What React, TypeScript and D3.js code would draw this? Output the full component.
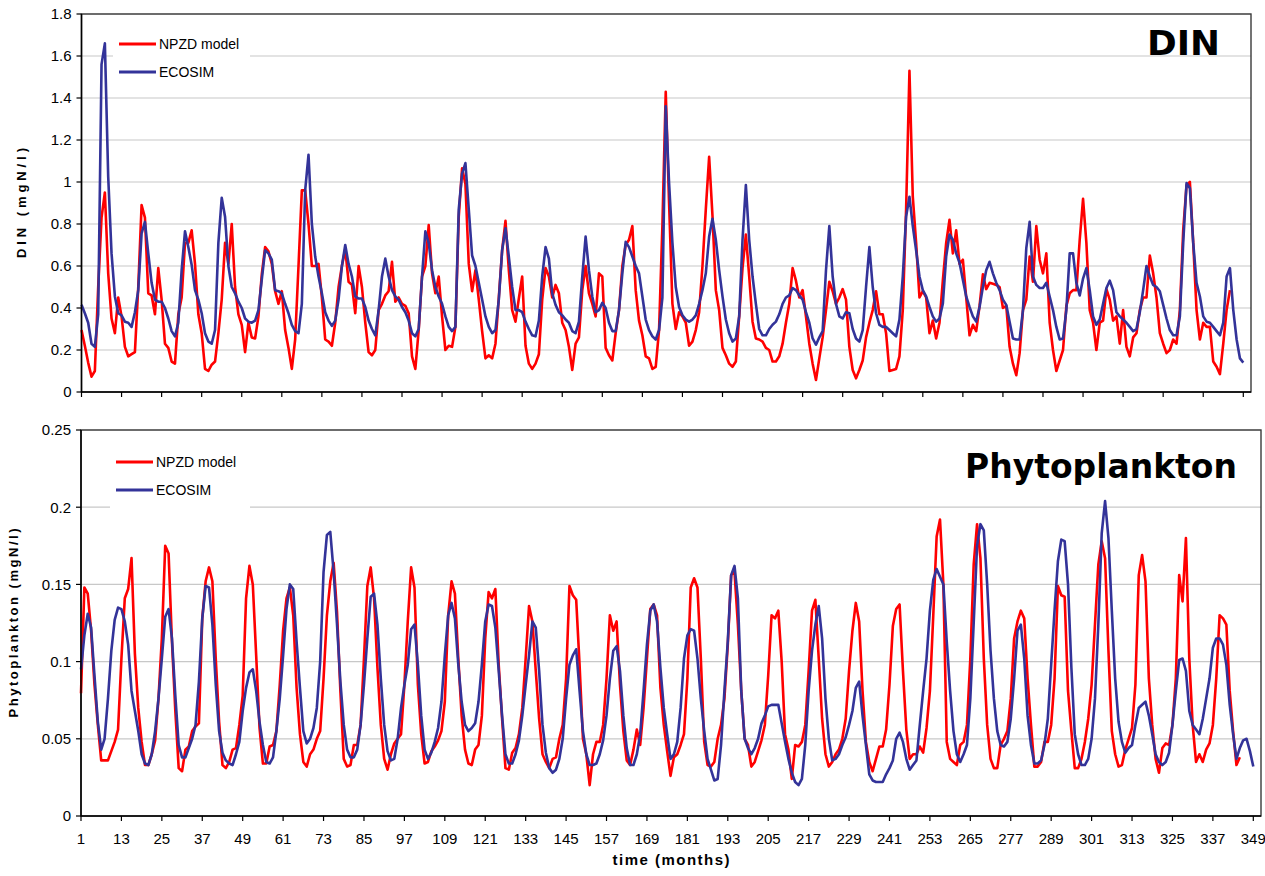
import React from 'react';
import * as d3 from 'd3';

// Month tick labels shared by both panels
const MONTH_TICKS = [1, 13, 25, 37, 49, 61, 73, 85, 97, 109, 121, 133, 145, 157, 169, 181, 193, 205, 217, 229, 241, 253, 265, 277, 289, 301, 313, 325, 337, 349];
const DIN_TICKS = [0, 0.2, 0.4, 0.6, 0.8, 1, 1.2, 1.4, 1.6, 1.8];
const PHYTO_TICKS = [0, 0.05, 0.1, 0.15, 0.2, 0.25];
const SERIES_NAMES = ['NPZD model', 'ECOSIM'];

// DIN (mgN/l), one value per month starting at month 1
const DIN_NPZD = [
  0.295, 0.22, 0.14, 0.073, 0.10, 0.50, 0.83, 0.95, 0.565, 0.35, 0.28, 0.45,
  0.36, 0.215, 0.17, 0.18, 0.19, 0.50, 0.89, 0.83, 0.47, 0.46, 0.37, 0.59,
  0.44, 0.23, 0.21, 0.145, 0.135, 0.37, 0.45, 0.71, 0.71, 0.77, 0.61, 0.37,
  0.28, 0.11, 0.10, 0.13, 0.145, 0.28, 0.44, 0.71, 0.61, 0.80, 0.50, 0.37,
  0.32, 0.19, 0.33, 0.26, 0.255, 0.36, 0.56, 0.69, 0.67, 0.61, 0.48, 0.42,
  0.48, 0.295, 0.21, 0.11, 0.25, 0.60, 0.96, 0.96, 0.80, 0.60, 0.60, 0.61,
  0.45, 0.25, 0.24, 0.22, 0.33, 0.50, 0.60, 0.68, 0.525, 0.51, 0.375, 0.60,
  0.50, 0.33, 0.19, 0.175, 0.20, 0.39, 0.42, 0.46, 0.48, 0.62, 0.43, 0.45,
  0.42, 0.41, 0.375, 0.17, 0.11, 0.295, 0.55, 0.60, 0.795, 0.565, 0.47, 0.55,
  0.36, 0.20, 0.22, 0.215, 0.31, 0.835, 1.065, 0.99, 0.61, 0.48, 0.58, 0.44,
  0.29, 0.16, 0.175, 0.16, 0.23, 0.45, 0.675, 0.815, 0.58, 0.39, 0.335, 0.445,
  0.55, 0.22, 0.135, 0.11, 0.135, 0.18, 0.44, 0.59, 0.55, 0.45, 0.51, 0.47,
  0.33, 0.295, 0.215, 0.105, 0.23, 0.26, 0.485, 0.60, 0.47, 0.42, 0.36, 0.565,
  0.55, 0.21, 0.175, 0.15, 0.28, 0.39, 0.60, 0.70, 0.725, 0.79, 0.485, 0.34,
  0.27, 0.17, 0.16, 0.11, 0.12, 0.295, 0.79, 1.43, 0.90, 0.42, 0.30, 0.38,
  0.36, 0.33, 0.22, 0.24, 0.295, 0.38, 0.60, 0.87, 1.12, 0.84, 0.485, 0.39,
  0.21, 0.175, 0.135, 0.12, 0.145, 0.36, 0.59, 0.75, 0.55, 0.335, 0.255, 0.25,
  0.24, 0.21, 0.20, 0.145, 0.145, 0.17, 0.23, 0.33, 0.42, 0.59, 0.53, 0.45,
  0.485, 0.36, 0.23, 0.135, 0.057, 0.16, 0.26, 0.39, 0.525, 0.48, 0.42, 0.45,
  0.49, 0.44, 0.215, 0.105, 0.065, 0.105, 0.15, 0.26, 0.33, 0.39, 0.48, 0.37,
  0.37, 0.28, 0.10, 0.105, 0.11, 0.17, 0.39, 0.87, 1.53, 0.93, 0.71, 0.45,
  0.48, 0.45, 0.28, 0.34, 0.255, 0.33, 0.53, 0.71, 0.82, 0.66, 0.77, 0.61,
  0.63, 0.45, 0.27, 0.32, 0.29, 0.41, 0.56, 0.49, 0.52, 0.515, 0.51, 0.50,
  0.40, 0.41, 0.215, 0.135, 0.08, 0.185, 0.39, 0.44, 0.645, 0.525, 0.79, 0.63,
  0.565, 0.66, 0.33, 0.20, 0.10, 0.15, 0.20, 0.41, 0.47, 0.485, 0.485, 0.725,
  0.92, 0.71, 0.39, 0.33, 0.20, 0.33, 0.34, 0.49, 0.44, 0.34, 0.36, 0.23,
  0.39, 0.215, 0.17, 0.26, 0.28, 0.39, 0.45, 0.45, 0.65, 0.565, 0.45, 0.28,
  0.23, 0.185, 0.20, 0.25, 0.23, 0.39, 0.77, 0.985, 1.00, 0.71, 0.39, 0.25,
  0.33, 0.31, 0.31, 0.145, 0.12, 0.085, 0.23, 0.39, 0.485,
];

const DIN_ECOSIM = [
  0.415, 0.375, 0.33, 0.23, 0.215, 0.37, 1.56, 1.66, 1.025, 0.66, 0.455, 0.375,
  0.365, 0.335, 0.33, 0.31, 0.38, 0.485, 0.755, 0.81, 0.66, 0.52, 0.44, 0.43,
  0.43, 0.40, 0.35, 0.29, 0.265, 0.33, 0.58, 0.765, 0.69, 0.605, 0.485, 0.44,
  0.375, 0.28, 0.24, 0.23, 0.295, 0.71, 0.925, 0.835, 0.60, 0.50, 0.47, 0.43,
  0.40, 0.35, 0.335, 0.33, 0.34, 0.39, 0.535, 0.675, 0.66, 0.63, 0.485, 0.48,
  0.47, 0.42, 0.375, 0.32, 0.29, 0.28, 0.42, 0.96, 1.13, 0.80, 0.645, 0.55,
  0.47, 0.38, 0.34, 0.315, 0.34, 0.44, 0.60, 0.70, 0.61, 0.55, 0.455, 0.445,
  0.445, 0.405, 0.34, 0.30, 0.27, 0.39, 0.55, 0.635, 0.55, 0.485, 0.455, 0.44,
  0.405, 0.38, 0.34, 0.28, 0.265, 0.30, 0.55, 0.765, 0.71, 0.58, 0.50, 0.455,
  0.42, 0.36, 0.31, 0.29, 0.31, 0.87, 1.04, 1.09, 0.87, 0.65, 0.60, 0.52,
  0.44, 0.36, 0.31, 0.28, 0.295, 0.44, 0.675, 0.78, 0.645, 0.50, 0.39, 0.39,
  0.38, 0.335, 0.30, 0.27, 0.265, 0.34, 0.55, 0.69, 0.635, 0.47, 0.415, 0.38,
  0.365, 0.345, 0.33, 0.29, 0.28, 0.335, 0.55, 0.74, 0.58, 0.455, 0.38, 0.39,
  0.425, 0.40, 0.33, 0.29, 0.29, 0.39, 0.565, 0.715, 0.69, 0.645, 0.60, 0.565,
  0.455, 0.345, 0.295, 0.265, 0.25, 0.295, 0.45, 1.36, 0.995, 0.71, 0.50, 0.405,
  0.365, 0.345, 0.335, 0.345, 0.365, 0.42, 0.485, 0.565, 0.74, 0.825, 0.725, 0.58,
  0.455, 0.345, 0.28, 0.24, 0.255, 0.36, 0.725, 0.985, 0.725, 0.55, 0.42, 0.30,
  0.27, 0.27, 0.30, 0.32, 0.335, 0.37, 0.42, 0.45, 0.46, 0.495, 0.485, 0.46,
  0.44, 0.38, 0.33, 0.255, 0.225, 0.26, 0.29, 0.58, 0.79, 0.55, 0.42, 0.36,
  0.35, 0.38, 0.375, 0.30, 0.255, 0.24, 0.295, 0.50, 0.69, 0.50, 0.375, 0.32,
  0.31, 0.31, 0.295, 0.28, 0.265, 0.345, 0.55, 0.835, 0.93, 0.79, 0.675, 0.55,
  0.485, 0.455, 0.405, 0.36, 0.335, 0.35, 0.42, 0.645, 0.75, 0.725, 0.66, 0.615,
  0.535, 0.455, 0.405, 0.36, 0.335, 0.405, 0.50, 0.58, 0.62, 0.565, 0.52, 0.485,
  0.44, 0.415, 0.335, 0.255, 0.25, 0.25, 0.39, 0.685, 0.81, 0.55, 0.51, 0.495,
  0.495, 0.52, 0.455, 0.39, 0.31, 0.25, 0.255, 0.39, 0.66, 0.66, 0.52, 0.46,
  0.54, 0.59, 0.485, 0.36, 0.32, 0.345, 0.42, 0.495, 0.53, 0.485, 0.38, 0.36,
  0.345, 0.33, 0.31, 0.29, 0.30, 0.38, 0.485, 0.60, 0.55, 0.51, 0.50, 0.48,
  0.415, 0.35, 0.295, 0.27, 0.27, 0.36, 0.71, 0.995, 0.97, 0.71, 0.52, 0.455,
  0.36, 0.335, 0.33, 0.31, 0.29, 0.27, 0.33, 0.55, 0.59, 0.39, 0.25, 0.16,
  0.14,
];

// Phytoplankton (mgN/l), one value per month starting at month 1
const PHYTO_NPZD = [
  0.0795, 0.148, 0.144, 0.12, 0.085, 0.059, 0.036, 0.036, 0.036, 0.042, 0.048, 0.056,
  0.102, 0.141, 0.147, 0.167, 0.105, 0.07, 0.048, 0.033, 0.033, 0.04, 0.049, 0.076,
  0.115, 0.175, 0.17, 0.113, 0.068, 0.031, 0.029, 0.043, 0.045, 0.055, 0.058, 0.06,
  0.128, 0.152, 0.161, 0.152, 0.102, 0.061, 0.033, 0.031, 0.035, 0.043, 0.044, 0.059,
  0.078, 0.141, 0.162, 0.15, 0.104, 0.057, 0.034, 0.034, 0.045, 0.046, 0.055, 0.085,
  0.12, 0.141, 0.148, 0.13, 0.083, 0.053, 0.035, 0.032, 0.04, 0.043, 0.05, 0.055,
  0.089, 0.13, 0.152, 0.164, 0.132, 0.081, 0.037, 0.032, 0.033, 0.046, 0.046, 0.059,
  0.102, 0.149, 0.161, 0.141, 0.096, 0.059, 0.037, 0.03, 0.04, 0.047, 0.05, 0.053,
  0.085, 0.126, 0.161, 0.148, 0.085, 0.053, 0.034, 0.035, 0.042, 0.045, 0.049, 0.055,
  0.074, 0.13, 0.152, 0.144, 0.102, 0.065, 0.043, 0.034, 0.033, 0.043, 0.046, 0.065,
  0.115, 0.145, 0.141, 0.147, 0.098, 0.063, 0.031, 0.03, 0.041, 0.044, 0.053, 0.07,
  0.102, 0.136, 0.126, 0.094, 0.063, 0.04, 0.035, 0.031, 0.037, 0.038, 0.05, 0.059,
  0.089, 0.149, 0.143, 0.14, 0.098, 0.05, 0.04, 0.02, 0.04, 0.048, 0.048, 0.059,
  0.089, 0.13, 0.12, 0.126, 0.085, 0.055, 0.036, 0.033, 0.043, 0.056, 0.046, 0.07,
  0.102, 0.134, 0.137, 0.13, 0.083, 0.059, 0.042, 0.026, 0.038, 0.04, 0.046, 0.053,
  0.089, 0.148, 0.154, 0.148, 0.102, 0.048, 0.033, 0.032, 0.035, 0.05, 0.059, 0.076,
  0.111, 0.156, 0.158, 0.124, 0.081, 0.05, 0.046, 0.032, 0.035, 0.042, 0.049, 0.059,
  0.091, 0.13, 0.128, 0.133, 0.1, 0.053, 0.043, 0.024, 0.046, 0.045, 0.048, 0.059,
  0.094, 0.133, 0.14, 0.102, 0.063, 0.04, 0.032, 0.035, 0.04, 0.043, 0.05, 0.063,
  0.094, 0.12, 0.138, 0.126, 0.081, 0.048, 0.035, 0.029, 0.037, 0.045, 0.045, 0.056,
  0.085, 0.123, 0.134, 0.137, 0.094, 0.056, 0.037, 0.04, 0.04, 0.045, 0.041, 0.057,
  0.081, 0.13, 0.181, 0.192, 0.15, 0.048, 0.037, 0.035, 0.033, 0.046, 0.048, 0.059,
  0.102, 0.163, 0.189, 0.167, 0.102, 0.059, 0.037, 0.031, 0.031, 0.046, 0.05, 0.055,
  0.076, 0.115, 0.126, 0.133, 0.128, 0.089, 0.059, 0.032, 0.032, 0.035, 0.048, 0.048,
  0.059, 0.089, 0.149, 0.143, 0.142, 0.081, 0.055, 0.031, 0.031, 0.037, 0.048, 0.063,
  0.085, 0.124, 0.163, 0.178, 0.167, 0.107, 0.055, 0.04, 0.032, 0.033, 0.043, 0.05,
  0.057, 0.085, 0.156, 0.169, 0.152, 0.089, 0.059, 0.037, 0.028, 0.044, 0.047, 0.046,
  0.059, 0.089, 0.156, 0.139, 0.18, 0.102, 0.059, 0.035, 0.04, 0.035, 0.043, 0.047,
  0.059, 0.089, 0.13, 0.128, 0.124, 0.081, 0.055, 0.033, 0.038,
];

const PHYTO_ECOSIM = [
  0.095, 0.117, 0.131, 0.122, 0.091, 0.061, 0.043, 0.05, 0.076, 0.107, 0.127, 0.135,
  0.134, 0.126, 0.111, 0.081, 0.068, 0.055, 0.04, 0.034, 0.033, 0.04, 0.055, 0.076,
  0.102, 0.129, 0.134, 0.115, 0.078, 0.046, 0.038, 0.038, 0.044, 0.05, 0.059, 0.087,
  0.128, 0.149, 0.148, 0.124, 0.085, 0.055, 0.041, 0.036, 0.034, 0.033, 0.04, 0.048,
  0.068, 0.083, 0.093, 0.095, 0.081, 0.061, 0.046, 0.035, 0.034, 0.038, 0.055, 0.076,
  0.104, 0.134, 0.15, 0.147, 0.113, 0.083, 0.055, 0.047, 0.05, 0.057, 0.07, 0.1,
  0.158, 0.182, 0.184, 0.158, 0.124, 0.087, 0.059, 0.043, 0.038, 0.038, 0.043, 0.059,
  0.085, 0.115, 0.142, 0.144, 0.124, 0.089, 0.059, 0.042, 0.036, 0.037, 0.05, 0.07,
  0.085, 0.098, 0.121, 0.124, 0.098, 0.065, 0.043, 0.037, 0.041, 0.048, 0.057, 0.074,
  0.104, 0.13, 0.138, 0.128, 0.098, 0.074, 0.059, 0.055, 0.057, 0.06, 0.074, 0.098,
  0.126, 0.137, 0.136, 0.122, 0.094, 0.065, 0.04, 0.034, 0.034, 0.04, 0.049, 0.065,
  0.085, 0.104, 0.126, 0.122, 0.094, 0.059, 0.041, 0.031, 0.028, 0.03, 0.037, 0.05,
  0.076, 0.098, 0.104, 0.108, 0.081, 0.055, 0.04, 0.033, 0.033, 0.034, 0.04, 0.049,
  0.065, 0.089, 0.107, 0.11, 0.094, 0.065, 0.044, 0.033, 0.033, 0.04, 0.053, 0.081,
  0.111, 0.133, 0.137, 0.126, 0.096, 0.07, 0.053, 0.037, 0.04, 0.048, 0.07, 0.102,
  0.117, 0.121, 0.12, 0.102, 0.076, 0.055, 0.037, 0.03, 0.023, 0.024, 0.046, 0.081,
  0.113, 0.156, 0.162, 0.141, 0.081, 0.05, 0.044, 0.04, 0.044, 0.05, 0.06, 0.065,
  0.071, 0.072, 0.072, 0.072, 0.06, 0.048, 0.037, 0.028, 0.022, 0.02, 0.024, 0.046,
  0.081, 0.107, 0.124, 0.136, 0.115, 0.076, 0.05, 0.036, 0.037, 0.04, 0.046, 0.051,
  0.059, 0.068, 0.083, 0.087, 0.065, 0.046, 0.027, 0.023, 0.022, 0.022, 0.022, 0.027,
  0.031, 0.036, 0.05, 0.054, 0.048, 0.037, 0.03, 0.033, 0.036, 0.059, 0.081, 0.102,
  0.133, 0.153, 0.16, 0.155, 0.15, 0.113, 0.081, 0.055, 0.04, 0.035, 0.04, 0.046,
  0.076, 0.125, 0.175, 0.189, 0.185, 0.15, 0.107, 0.076, 0.055, 0.046, 0.045, 0.048,
  0.063, 0.089, 0.12, 0.124, 0.102, 0.065, 0.046, 0.034, 0.034, 0.036, 0.046, 0.063,
  0.098, 0.133, 0.165, 0.179, 0.178, 0.15, 0.096, 0.053, 0.04, 0.033, 0.033, 0.037,
  0.05, 0.076, 0.124, 0.183, 0.204, 0.18, 0.133, 0.089, 0.061, 0.048, 0.041, 0.044,
  0.046, 0.059, 0.07, 0.072, 0.074, 0.065, 0.053, 0.04, 0.035, 0.033, 0.035, 0.041,
  0.059, 0.081, 0.101, 0.102, 0.094, 0.068, 0.059, 0.056, 0.053, 0.063, 0.076, 0.089,
  0.109, 0.115, 0.115, 0.111, 0.098, 0.072, 0.053, 0.037, 0.044, 0.049, 0.05, 0.042,
  0.032,
];

const RED = '#ff0000';
const BLUE = '#333399';
const FONT = "'Liberation Sans', Arial, sans-serif";
const TITLE_FONT = "'DejaVu Sans', Verdana, sans-serif";

type PanelProps = {
  left: number;
  right: number;
  top: number;
  bottom: number;
  lastTickX: number;
  yTicks: number[];
  npzd: number[];
  ecosim: number[];
  title: string;
  titleX: number;
  titleY: number;
  titleLength: number;
  yLabel: string;
  yLabelX: number;
  yLabelLength: number;
  legend: { x: number; y: number; w: number; h: number; lineX: number; lineY: number };
  showXLabels: boolean;
};

function Panel(p: PanelProps) {
  const x = d3.scaleLinear().domain([MONTH_TICKS[0], MONTH_TICKS[MONTH_TICKS.length - 1]]).range([p.left, p.lastTickX]);
  const y = d3.scaleLinear().domain([0, p.yTicks[p.yTicks.length - 1]]).range([p.bottom, p.top]);
  const line = d3
    .line<number>()
    .x((_, i) => x(i + 1))
    .y((d) => y(d));

  const midY = (p.top + p.bottom) / 2;

  return (
    <g>
      {/* horizontal gridlines */}
      {p.yTicks.slice(1).map((t) => (
        <line key={'g' + t} x1={p.left} x2={p.right} y1={y(t)} y2={y(t)} stroke="#c8c8c8" strokeWidth={1.2} />
      ))}

      {/* legend background hides the gridlines behind it */}
      <rect x={p.legend.x} y={p.legend.y} width={p.legend.w} height={p.legend.h} fill="#ffffff" />

      {/* plot frame */}
      <rect x={p.left} y={p.top} width={p.right - p.left} height={p.bottom - p.top} fill="none" stroke="#3a3a3a" strokeWidth={1.4} />

      {/* series */}
      <path d={line(p.npzd) || ''} fill="none" stroke={RED} strokeWidth={2.6} strokeLinejoin="round" />
      <path d={line(p.ecosim) || ''} fill="none" stroke={BLUE} strokeWidth={2.6} strokeLinejoin="round" />

      {/* axes */}
      <line x1={p.left} x2={p.left} y1={p.top} y2={p.bottom} stroke="#000" strokeWidth={1.5} />
      <line x1={p.left} x2={p.right} y1={p.bottom} y2={p.bottom} stroke="#000" strokeWidth={1.5} />
      {p.yTicks.map((t) => (
        <g key={'y' + t}>
          <line x1={p.left - 5} x2={p.left} y1={y(t)} y2={y(t)} stroke="#000" strokeWidth={1.2} />
          <text x={p.left - 10} y={y(t)} dy="0.36em" textAnchor="end" fontFamily={FONT} fontSize={15} fill="#000">
            {String(t)}
          </text>
        </g>
      ))}
      {MONTH_TICKS.map((m) => (
        <g key={'x' + m}>
          <line x1={x(m)} x2={x(m)} y1={p.bottom} y2={p.bottom + 5} stroke="#000" strokeWidth={1.2} />
          {p.showXLabels && (
            <text x={x(m)} y={p.bottom + 28} textAnchor="middle" fontFamily={FONT} fontSize={15} fill="#000">
              {String(m)}
            </text>
          )}
        </g>
      ))}

      {/* y axis title */}
      <text
        transform={`translate(${p.yLabelX},${midY}) rotate(-90)`}
        textAnchor="middle"
        fontFamily={FONT}
        fontWeight="bold"
        fontSize={13}
        textLength={p.yLabelLength}
        lengthAdjust="spacing"
        fill="#000"
      >
        {p.yLabel}
      </text>

      {/* legend */}
      {SERIES_NAMES.map((name, i) => (
        <g key={name}>
          <line
            x1={p.legend.lineX}
            x2={p.legend.lineX + 37}
            y1={p.legend.lineY + i * 28}
            y2={p.legend.lineY + i * 28}
            stroke={i === 0 ? RED : BLUE}
            strokeWidth={3}
          />
          <text x={p.legend.lineX + 40} y={p.legend.lineY + i * 28} dy="0.36em" fontFamily={FONT} fontSize={14} fill="#000">
            {name}
          </text>
        </g>
      ))}

      {/* panel title */}
      <text
        x={p.titleX}
        y={p.titleY}
        textAnchor="end"
        fontFamily={TITLE_FONT}
        fontWeight="bold"
        fontSize={33}
        textLength={p.titleLength}
        lengthAdjust="spacingAndGlyphs"
        fill="#000"
      >
        {p.title}
      </text>
    </g>
  );
}

export default function App() {
  return (
    <svg
      width={1265}
      height={876}
      viewBox="0 0 1265 876"
      style={{ position: 'absolute', left: 0, top: 0, display: 'block', background: '#fff' }}
    >
      <rect x={0} y={0} width={1265} height={876} fill="#fff" />
      <Panel
        left={81.5}
        right={1251}
        top={14}
        bottom={392}
        lastTickX={1243.3}
        yTicks={DIN_TICKS}
        npzd={DIN_NPZD}
        ecosim={DIN_ECOSIM}
        title="DIN"
        titleX={1220}
        titleY={55}
        titleLength={73}
        yLabel="DIN (mgN/l)"
        yLabelX={26}
        yLabelLength={110}
        legend={{ x: 113, y: 28, w: 137, h: 56, lineX: 119, lineY: 44 }}
        showXLabels={false}
      />
      <Panel
        left={81}
        right={1261}
        top={430}
        bottom={816}
        lastTickX={1253.3}
        yTicks={PHYTO_TICKS}
        npzd={PHYTO_NPZD}
        ecosim={PHYTO_ECOSIM}
        title="Phytoplankton"
        titleX={1237}
        titleY={478}
        titleLength={272}
        yLabel="Phytoplankton (mgN/l)"
        yLabelX={18}
        yLabelLength={189}
        legend={{ x: 110, y: 445, w: 140, h: 67, lineX: 116, lineY: 462 }}
        showXLabels={true}
      />
      <text x={671} y={865} textAnchor="middle" fontFamily={FONT} fontWeight="bold" fontSize={15} textLength={117} lengthAdjust="spacing" fill="#000">
        time (months)
      </text>
    </svg>
  );
}
